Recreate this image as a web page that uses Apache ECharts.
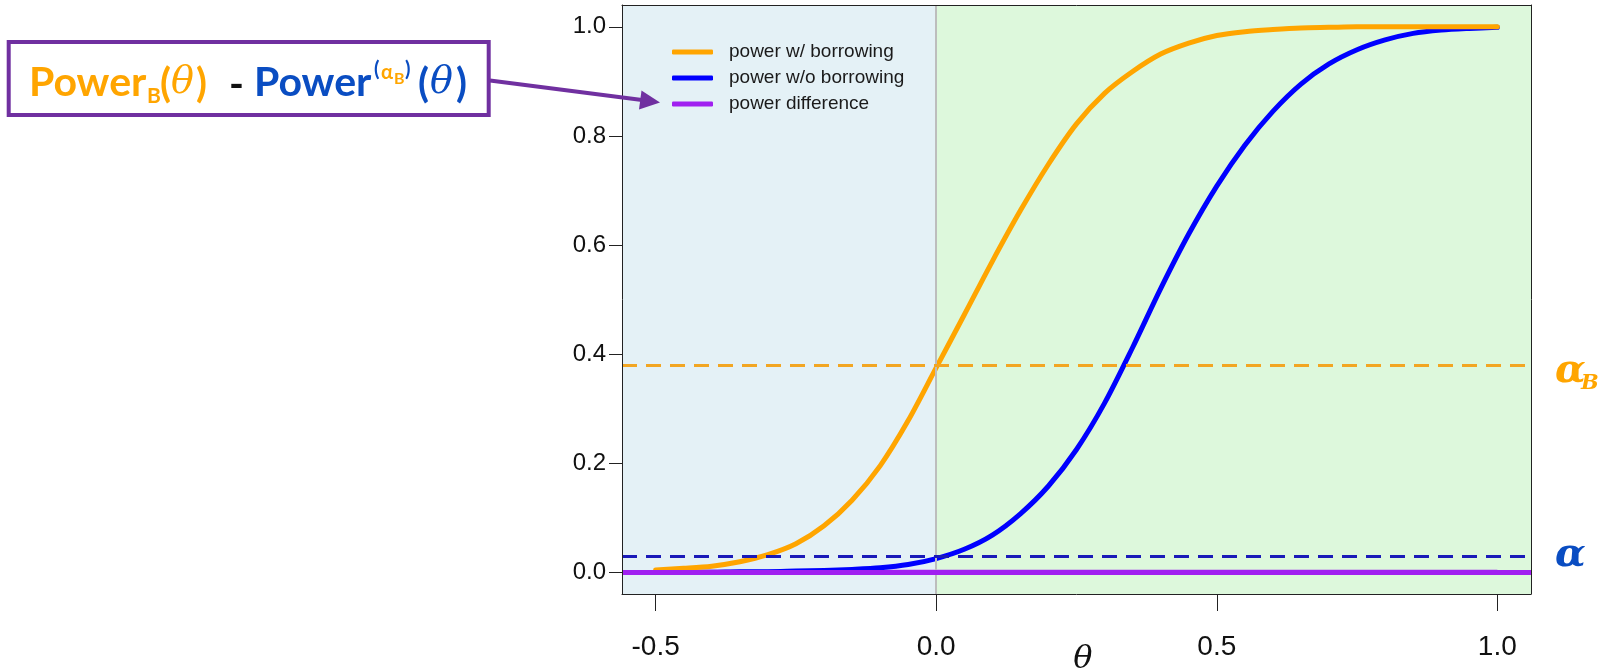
<!DOCTYPE html>
<html>
<head>
<meta charset="utf-8">
<title>Power curves with and without borrowing</title>
<script src="https://cdn.jsdelivr.net/npm/echarts@6/dist/echarts.min.js"></script>
<style>
  html, body { margin: 0; padding: 0; background: #ffffff; }
  #chart { width: 1598px; height: 670px; }
</style>
</head>
<body>
<div id="chart"></div>
<script>
// Effect size grid (theta) and the power read at each point
const theta = [-0.5, -0.45, -0.4, -0.35, -0.3, -0.25, -0.2, -0.15, -0.1, -0.05,
  0.0, 0.05, 0.1, 0.15, 0.2, 0.25, 0.3, 0.35, 0.4, 0.45,
  0.5, 0.55, 0.6, 0.65, 0.7, 0.75, 0.8, 0.85, 0.9, 0.95, 1.0];

const powerBorrow = [0.004, 0.007, 0.011, 0.019, 0.032, 0.052, 0.085, 0.132, 0.195, 0.278,
  0.375, 0.472, 0.570, 0.663, 0.748, 0.822, 0.878, 0.918, 0.950, 0.970,
  0.984, 0.991, 0.995, 0.998, 0.999, 1.0, 1.0, 1.0, 1.0, 1.0, 1.0];

const powerNoBorrow = [0.000, 0.000, 0.000, 0.001, 0.001, 0.002, 0.003, 0.005, 0.008, 0.014,
  0.025, 0.042, 0.068, 0.107, 0.158, 0.225, 0.310, 0.412, 0.520, 0.620,
  0.708, 0.783, 0.845, 0.895, 0.932, 0.958, 0.976, 0.988, 0.994, 0.997, 0.999];

const powerDiff = [0, 0, 0, 0, 0, 0, 0, 0, 0, 0,
  0, 0, 0, 0, 0, 0, 0, 0, 0, 0,
  0, 0, 0, 0, 0, 0, 0, 0, 0, 0, 0];

// Reference levels: type I error with borrowing and nominal alpha
const alphaB = 0.375;
const alpha = 0.025;

const seriesNames = ['power w/ borrowing', 'power w/o borrowing', 'power difference'];
const xTicks = [-0.5, 0.0, 0.5, 1.0];
const yTicks = [0.0, 0.2, 0.4, 0.6, 0.8, 1.0];

const X_MIN = -0.56, X_MAX = 1.06;
const Y_MIN = -0.04, Y_MAX = 1.04;

const ORANGE = '#FFA500';
const BLUE = '#0000FF';
const PURPLE = '#A020F0';
const BOX_PURPLE = '#7030A0';
const TEXT_BLUE = '#0A4DC2';

const pair = (ys) => theta.map((t, i) => [t, ys[i]]);

const chart = echarts.init(document.getElementById('chart'), null, { renderer: 'canvas' });

const sans = 'Liberation Sans, Arial, sans-serif';
const boxFont = 'Lato, Open Sans, sans-serif';
const serif = 'DejaVu Serif, Liberation Serif, serif';

function txt(x, y, s, color, size, opt) {
  opt = opt || {};
  return {
    type: 'text', x: x, y: y, z: 100,
    style: {
      text: s, fill: color,
      font: (opt.italic ? 'italic ' : '') + (opt.bold === false ? '' : 'bold ') + size + 'px ' + (opt.family || boxFont),
      textAlign: opt.align || 'left', textVerticalAlign: 'middle'
    }
  };
}

const option = {
  animation: false,
  backgroundColor: '#ffffff',
  grid: { left: 622, top: 5, width: 909, height: 589, containLabel: false },
  legend: {
    show: true,
    data: seriesNames,
    orient: 'vertical',
    left: 667, top: 37,
    icon: 'roundRect',
    itemWidth: 41, itemHeight: 5,
    itemGap: 6,
    textStyle: { fontFamily: sans, fontSize: 19, color: '#1a1a1a', lineHeight: 20, padding: [0, 0, 0, 11] },
    selectedMode: false
  },
  xAxis: [{
    type: 'value', min: X_MIN, max: X_MAX, position: 'bottom', z: 10,
    splitLine: { show: false },
    axisLine: { show: true, onZero: false, lineStyle: { color: '#222', width: 1 } },
    axisTick: { show: true, length: 17, customValues: xTicks, lineStyle: { color: '#222', width: 1 } },
    axisLabel: { show: true, customValues: xTicks, margin: 39, fontFamily: sans, fontSize: 28, color: '#111',
      formatter: (v) => v.toFixed(1) }
  }, {
    type: 'value', min: X_MIN, max: X_MAX, position: 'top', z: 10,
    splitLine: { show: false }, axisTick: { show: false }, axisLabel: { show: false },
    axisLine: { show: true, onZero: false, lineStyle: { color: '#222', width: 1 } }
  }],
  yAxis: [{
    type: 'value', min: Y_MIN, max: Y_MAX, position: 'left', z: 10,
    splitLine: { show: false },
    axisLine: { show: true, onZero: false, lineStyle: { color: '#222', width: 1 } },
    axisTick: { show: true, length: 13, customValues: yTicks, lineStyle: { color: '#222', width: 1 } },
    axisLabel: { show: true, customValues: yTicks, margin: 16, fontFamily: sans, fontSize: 24, color: '#111',
      formatter: (v) => v.toFixed(1) }
  }, {
    type: 'value', min: Y_MIN, max: Y_MAX, position: 'right', z: 10,
    splitLine: { show: false }, axisTick: { show: false }, axisLabel: { show: false },
    axisLine: { show: true, onZero: false, lineStyle: { color: '#222', width: 1 } }
  }],
  series: [
    {
      // shaded null / alternative regions, reference lines
      name: 'regions', type: 'line', data: [], z: 1, silent: true,
      markArea: {
        silent: true,
        data: [
          [{ xAxis: X_MIN, itemStyle: { color: '#E4F1F6' } }, { xAxis: 0 }],
          [{ xAxis: 0, itemStyle: { color: '#DDF8DC' } }, { xAxis: X_MAX }]
        ]
      },
      markLine: {
        silent: true, symbol: 'none', label: { show: false },
        data: [
          { xAxis: 0, lineStyle: { color: '#BDBDBD', width: 2, type: 'solid' } },
          { yAxis: alphaB, lineStyle: { color: '#F2A623', width: 3, type: [15, 9] } },
          { yAxis: alpha, lineStyle: { color: '#1A1AB8', width: 3, type: [15, 9] } }
        ]
      }
    },
    {
      name: seriesNames[2], type: 'line', data: pair(powerDiff), z: 2,
      showSymbol: false, symbol: 'none',
      itemStyle: { color: PURPLE },
      lineStyle: { color: PURPLE, width: 5 },
      markLine: {
        silent: true, symbol: 'none', label: { show: false },
        data: [{ yAxis: 0, lineStyle: { color: PURPLE, width: 5, type: 'solid' } }]
      }
    },
    {
      name: seriesNames[1], type: 'line', data: pair(powerNoBorrow), z: 3,
      showSymbol: false, symbol: 'none', smooth: 0.3,
      itemStyle: { color: BLUE },
      lineStyle: { color: BLUE, width: 5, cap: 'round', join: 'round' }
    },
    {
      name: seriesNames[0], type: 'line', data: pair(powerBorrow), z: 4,
      showSymbol: false, symbol: 'none', smooth: 0.3,
      itemStyle: { color: ORANGE },
      lineStyle: { color: ORANGE, width: 5, cap: 'round', join: 'round' }
    }
  ],
  graphic: [
    // axis title
    txt(1083, 660, 'θ', '#111', 32, { italic: true, bold: false, family: serif, align: 'center' }),
    // level labels on the right margin
    txt(1555, 372, 'α', ORANGE, 40, { italic: true, family: serif }),
    txt(1581, 384, 'B', ORANGE, 21, { italic: true, family: serif }),
    txt(1555, 556, 'α', TEXT_BLUE, 40, { italic: true, family: serif }),
    // callout box
    {
      type: 'rect', z: 90,
      shape: { x: 8.7, y: 42, width: 480, height: 73 },
      style: { fill: '#ffffff', stroke: BOX_PURPLE, lineWidth: 4 }
    },
    {
      type: 'line', z: 90,
      shape: { x1: 490, y1: 80.5, x2: 644, y2: 100.3 },
      style: { stroke: BOX_PURPLE, lineWidth: 4 }
    },
    {
      type: 'polygon', z: 90,
      shape: { points: [[660, 102.5], [639, 109.5], [641.5, 90.5]] },
      style: { fill: BOX_PURPLE }
    },
    txt(29, 83, 'Power', ORANGE, 41),
    txt(147, 96, 'B', ORANGE, 21),
    txt(160, 84, '(', ORANGE, 40),
    txt(171, 83, 'θ', ORANGE, 38, { italic: true, bold: false, family: serif }),
    txt(196, 84, ')', ORANGE, 40),
    txt(229, 85, '-', '#111', 40),
    txt(254, 83, 'Power', TEXT_BLUE, 41),
    txt(374, 70, '(', TEXT_BLUE, 20),
    txt(381, 73, 'α', ORANGE, 20),
    txt(394, 79, 'B', ORANGE, 16),
    txt(405, 70, ')', TEXT_BLUE, 20),
    txt(418, 84, '(', TEXT_BLUE, 40),
    txt(430, 83, 'θ', TEXT_BLUE, 38, { italic: true, bold: false, family: serif }),
    txt(456, 84, ')', TEXT_BLUE, 40)
  ]
};

chart.setOption(option);
</script>
</body>
</html>
